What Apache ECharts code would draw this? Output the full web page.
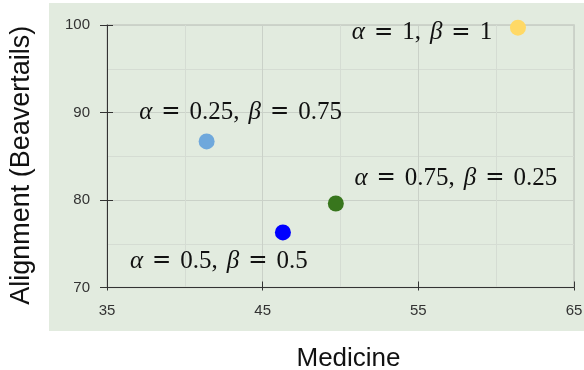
<!DOCTYPE html>
<html>
<head>
<meta charset="utf-8">
<script src="https://cdn.jsdelivr.net/npm/echarts@6/dist/echarts.min.js"></script>
<style>html,body{margin:0;padding:0;background:#fff}#c{width:584px;height:370px}</style>
</head>
<body>
<div id="c"></div>
<script>
const names = ['α = 0.25, β = 0.75', 'α = 1, β = 1', 'α = 0.75, β = 0.25', 'α = 0.5, β = 0.5'];
const alphas = ['0.25', '1', '0.75', '0.5'];
const betas = ['0.75', '1', '0.25', '0.5'];
const medicine = [41.4, 61.4, 49.7, 46.3];
const alignment = [86.7, 99.7, 79.6, 76.3];
const colors = ['#6fa8dc', '#ffd966', '#38761d', '#0000ff'];
const labelOffsets = [[34, -29], [-96, 5], [120, -25], [-64, 29]];
const xTicks = [35, 45, 55, 65];
const yTicks = [70, 80, 90, 100];

const chart = echarts.init(document.getElementById('c'));
const serif = '"Liberation Serif", "DejaVu Serif", serif';
const sans = '"Liberation Sans", Arial, sans-serif';
const tickCol = '#333';
chart.setOption({
  backgroundColor: '#ffffff',
  animation: false,
  graphic: [{
    type: 'rect', z: -10, silent: true,
    shape: {x: 49, y: 3, width: 535, height: 328},
    style: {fill: '#e2ebdf'}
  }],
  grid: {left: 107, right: 10, top: 25, bottom: 82.5, containLabel: false, outerBoundsMode: 'none',
    show: true, borderColor: '#c6ccc4', borderWidth: 1.5, backgroundColor: 'transparent'},
  xAxis: [{
    type: 'value', min: xTicks[0], max: xTicks[xTicks.length - 1], interval: 10,
    name: 'Medicine', nameLocation: 'middle', nameGap: 58,
    nameTextStyle: {fontFamily: sans, fontSize: 26, color: '#111', padding: [0, 0, 0, 16]},
    axisLine: {show: true, onZero: false, lineStyle: {color: tickCol, width: 1}},
    axisTick: {show: true, inside: true, length: 6, lineStyle: {color: tickCol}},
    axisLabel: {fontFamily: sans, fontSize: 15, color: '#333', margin: 16},
    splitLine: {show: true, lineStyle: {color: '#cad1c8', width: 1}},
    minorTick: {show: false, splitNumber: 2},
    minorSplitLine: {show: true, lineStyle: {color: '#d5dcd3', width: 1}}
  }, {
    type: 'value', min: xTicks[0], max: xTicks[xTicks.length - 1], interval: 10, position: 'bottom',
    axisLine: {show: false}, axisLabel: {show: false}, splitLine: {show: false},
    axisTick: {show: true, inside: false, length: 3, lineStyle: {color: tickCol}}
  }],
  yAxis: [{
    type: 'value', min: yTicks[0], max: yTicks[yTicks.length - 1], interval: 10,
    name: 'Alignment (Beavertails)', nameLocation: 'middle', nameGap: 72,
    nameTextStyle: {fontFamily: sans, fontSize: 27, color: '#111', padding: [0, 18, 0, 0]},
    axisLine: {show: true, onZero: false, lineStyle: {color: tickCol, width: 1}},
    axisTick: {show: true, inside: false, length: 7, lineStyle: {color: tickCol}},
    axisLabel: {fontFamily: sans, fontSize: 15, color: '#333', margin: 17},
    splitLine: {show: true, lineStyle: {color: '#cad1c8', width: 1}},
    minorTick: {show: false, splitNumber: 2},
    minorSplitLine: {show: true, lineStyle: {color: '#d5dcd3', width: 1}}
  }, {
    type: 'value', min: yTicks[0], max: yTicks[yTicks.length - 1], interval: 10, position: 'left',
    axisLine: {show: false}, axisLabel: {show: false}, splitLine: {show: false},
    axisTick: {show: true, inside: true, length: 6, lineStyle: {color: tickCol}}
  }],
  series: names.map((n, i) => ({
    type: 'scatter',
    name: n,
    clip: true,
    symbolSize: 16,
    itemStyle: {color: colors[i], opacity: 1},
    data: [[medicine[i], alignment[i]]],
    label: {
      show: true, position: 'inside', offset: labelOffsets[i],
      formatter: () => '{i|α}{e|=}{n|' + alphas[i] + ',}{g|}{i|β}{e|=}{n|' + betas[i] + '}',
      rich: {
        i: {fontFamily: serif, fontStyle: 'italic', fontSize: 25, color: '#111'},
        n: {fontFamily: serif, fontSize: 25, color: '#111'},
        e: {fontFamily: '"DejaVu Sans", sans-serif', fontSize: 23, color: '#111', padding: [0, 9]},
        g: {width: 9}
      }
    }
  }))
});
</script>
</body>
</html>
